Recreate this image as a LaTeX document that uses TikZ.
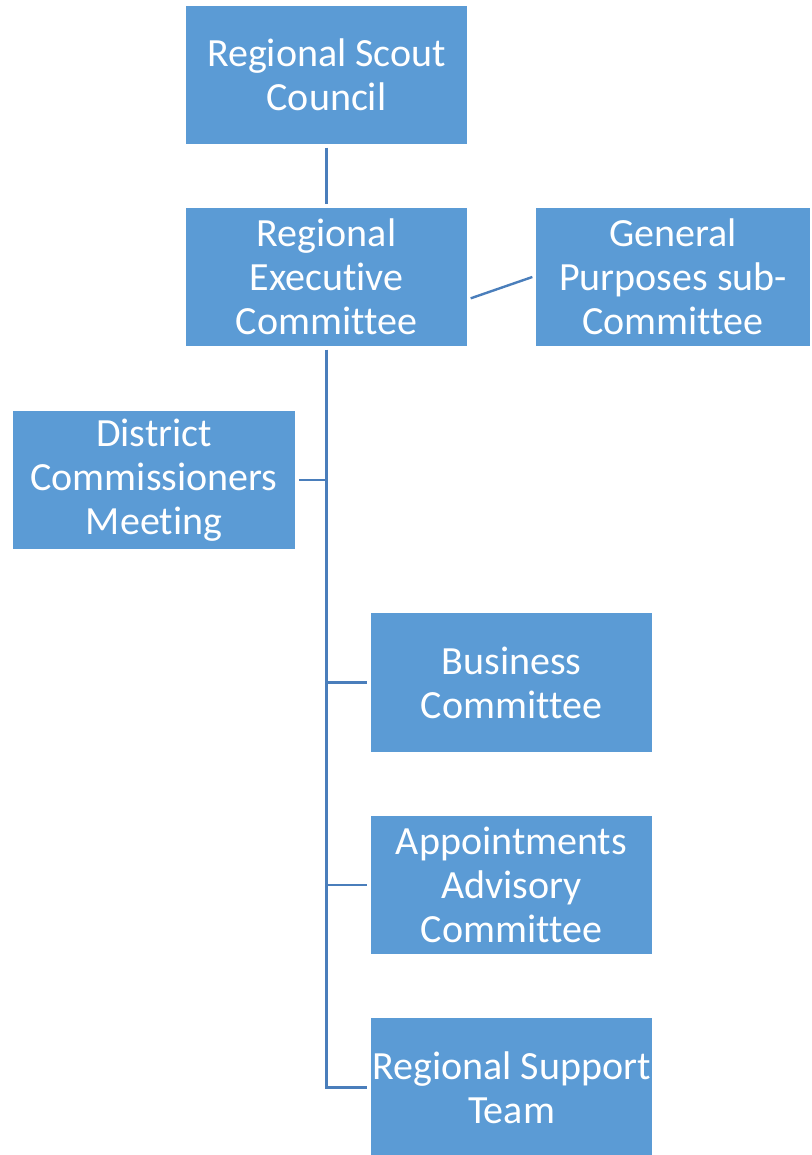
\documentclass[tikz,border=0pt]{standalone}
\usepackage{fontspec}
\setmainfont{Carlito}[Ligatures=NoCommon]
\usetikzlibrary{calc}
\definecolor{boxfill}{RGB}{91,155,213}
\definecolor{linkcol}{RGB}{74,126,187}
\begin{document}
\begin{tikzpicture}[x=0.75pt,y=-0.75pt,
  orgbox/.style={rectangle, fill=boxfill, draw=white, line width=0.8pt,
    minimum width=212.25pt, minimum height=105pt, text=white, align=center,
    font=\fontsize{30}{33}\selectfont, outer sep=2pt, inner sep=1pt},
  link/.style={draw=linkcol, line width=1.8pt}]
\useasboundingbox (0,0) rectangle (811,1155);
\node[orgbox] (rsc) at (326.5,75) {Regional Scout\\Council};
\node[orgbox] (rec) at (326.5,277) {Regional\\Executive\\Committee};
\node[orgbox, minimum width=207pt] (gp) at (673,277) {General\\Purposes sub-\\Committee};
\node[orgbox, minimum width=213pt] (dcm) at (154,480) {District\\Commissioners\\Meeting};
\node[orgbox] (bc) at (511.5,682.5) {Business\\Committee};
\node[orgbox] (aac) at (511.5,885) {Appointments\\Advisory\\Committee};
\node[orgbox] (rst) at (511.5,1087.5) {Regional Support\\Team};
\draw[link] (rsc.south) -- (rec.north);
\draw[link] ([yshift=-16pt]rec.east) -- (gp.west);
\draw[link] (rec.south) -- (rec.south |- rst.west) -- (rst.west);
\draw[link] (rec.south |- dcm.east) -- (dcm.east);
\draw[link] (rec.south |- bc.west) -- (bc.west);
\draw[link] (rec.south |- aac.west) -- (aac.west);
\end{tikzpicture}
\end{document}
